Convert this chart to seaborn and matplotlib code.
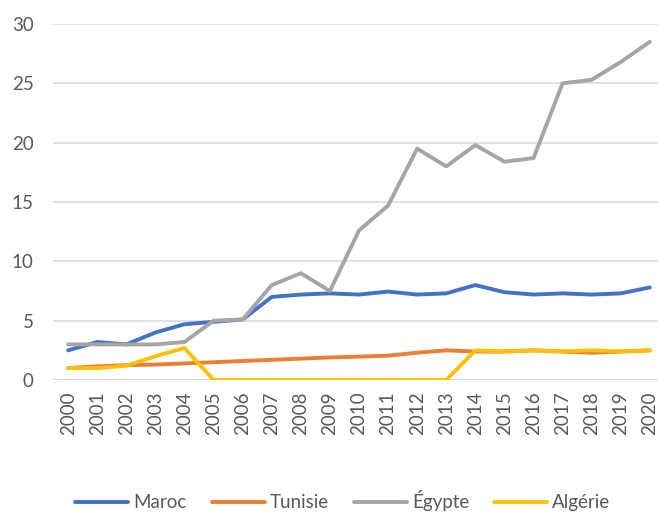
import matplotlib
matplotlib.use("Agg")
import matplotlib.pyplot as plt
import seaborn as sns
import pandas as pd

years = list(range(2000, 2021))
maroc = [2.5, 3.2, 3.0, 4.0, 4.7, 4.9, 5.1, 7.0, 7.2, 7.3, 7.2, 7.45, 7.2, 7.3, 8.0, 7.4, 7.2, 7.3, 7.2, 7.3, 7.8]
tunisie = [1.0, 1.15, 1.25, 1.3, 1.4, 1.5, 1.6, 1.7, 1.8, 1.9, 1.97, 2.05, 2.3, 2.5, 2.4, 2.4, 2.5, 2.4, 2.3, 2.4, 2.5]
egypte = [3.0, 3.0, 3.0, 3.0, 3.2, 5.0, 5.1, 8.0, 9.0, 7.5, 12.6, 14.7, 19.5, 18.0, 19.8, 18.4, 18.7, 25.0, 25.3, 26.8, 28.5]
algerie = [1.0, 1.0, 1.2, 2.0, 2.7, 0, 0, 0, 0, 0, 0, 0, 0, 0, 2.5, 2.4, 2.5, 2.4, 2.5, 2.4, 2.5]
series_names = ["Maroc", "Tunisie", "Égypte", "Algérie"]
colors = ["#4472C4", "#ED7D31", "#A5A5A5", "#FFC000"]

df = pd.DataFrame({
    "Année": years * 4,
    "Valeur": maroc + tunisie + egypte + algerie,
    "Pays": [n for n in series_names for _ in years],
})

sns.set_theme(style="white")
plt.rcParams['font.family'] = ['Lato', 'DejaVu Sans']
text_color = "#595959"

fig = plt.figure(figsize=(6.58, 5.13), dpi=100)
ax = fig.add_axes([53/658, 1-380/513, 1-53/658, (380-24)/513])

sns.lineplot(data=df, x="Année", y="Valeur", hue="Pays", hue_order=series_names,
             palette=colors, linewidth=2.8, ax=ax, legend=False)

ax.set_ylim(0, 30)
ax.set_xlim(1999.48, 2020.28)
ax.set_yticks([0, 5, 10, 15, 20, 25, 30])
ax.set_xticks(years)
ax.set_xticklabels([str(y) for y in years], rotation=90)
ax.yaxis.grid(True, color="#D9D9D9", linewidth=1.1)
ax.xaxis.grid(False)
for s in ["top", "right", "left", "bottom"]:
    ax.spines[s].set_visible(False)
ax.axhline(0, color="#D9D9D9", linewidth=1.1, zorder=0)
ax.tick_params(axis="y", length=0, pad=14, labelsize=13.5, labelcolor=text_color)
ax.tick_params(axis="x", length=0, pad=8, labelsize=13.5, labelcolor=text_color)
ax.set_xlabel("")
ax.set_ylabel("")

handles = [plt.Line2D([], [], color=c, linewidth=2.8) for c in colors]
leg = fig.legend(handles, series_names, loc="center", bbox_to_anchor=(0.521, 0.024),
                 ncol=4, frameon=False, fontsize=13.5, handlelength=2.83,
                 handletextpad=0.27, columnspacing=1.33, labelcolor=text_color,
                 borderaxespad=0, borderpad=0)

fig.savefig("out.png", dpi=100)
